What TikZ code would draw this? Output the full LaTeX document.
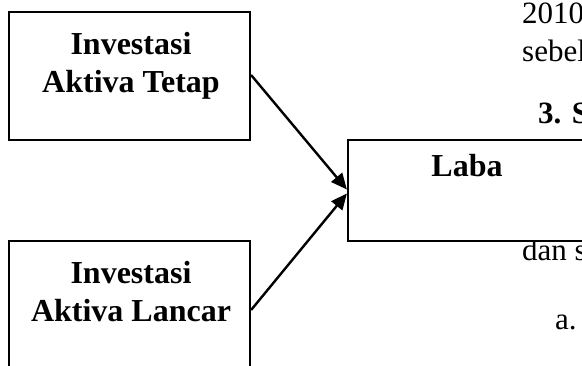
\documentclass[tikz,border=0pt]{standalone}
\usepackage{fontspec}
\setmainfont{Liberation Serif}
\usetikzlibrary{arrows.meta}
\begin{document}
\begin{tikzpicture}[x=1pt,y=-1pt,
  box/.style={draw,fill=white,line width=2.2pt,inner sep=0pt},
  lbl/.style={font=\fontsize{32}{38}\selectfont\bfseries,align=center,inner sep=0pt},
  body/.style={font=\fontsize{31}{36}\selectfont,inner sep=0pt,anchor=base west},
  arr/.style={line width=2.4pt,-{Triangle[length=16pt,width=14pt]}}]
\useasboundingbox (0,0) rectangle (582,365);
\clip (0,0) rectangle (582,365);
% page text fragments at right edge
\node[body] (t1) at (522,23) {2010};
\node[body] (t2) at (522,61) {sebel};
\node[body,font=\fontsize{31}{36}\selectfont\bfseries] (t3) at (538,123) {3. S};
\node[body] (t4) at (522,260) {dan s};
\node[body] (t5) at (555,329) {a.};
% boxes
\node[box,minimum width=241pt,minimum height=128pt] (tb) at (129.5,76) {};
\node[box,minimum width=241pt,minimum height=170pt] (bb) at (129.5,326) {};
\node[box,minimum width=360pt,minimum height=101pt] (laba) at (528,190.5) {};
% labels
\node[lbl] (tbl) at (131,66) {Investasi\\Aktiva Tetap};
\node[lbl] (bbl) at (131,292) {Investasi\\Aktiva Lancar};
\node[lbl] (lbl3) at (467,166) {Laba};
% arrows
\draw[arr] ([yshift=1pt]tb.east) -- ([yshift=1pt]laba.west);
\draw[arr] ([yshift=16pt]bb.east) -- ([yshift=-3pt]laba.west);
\end{tikzpicture}
\end{document}
